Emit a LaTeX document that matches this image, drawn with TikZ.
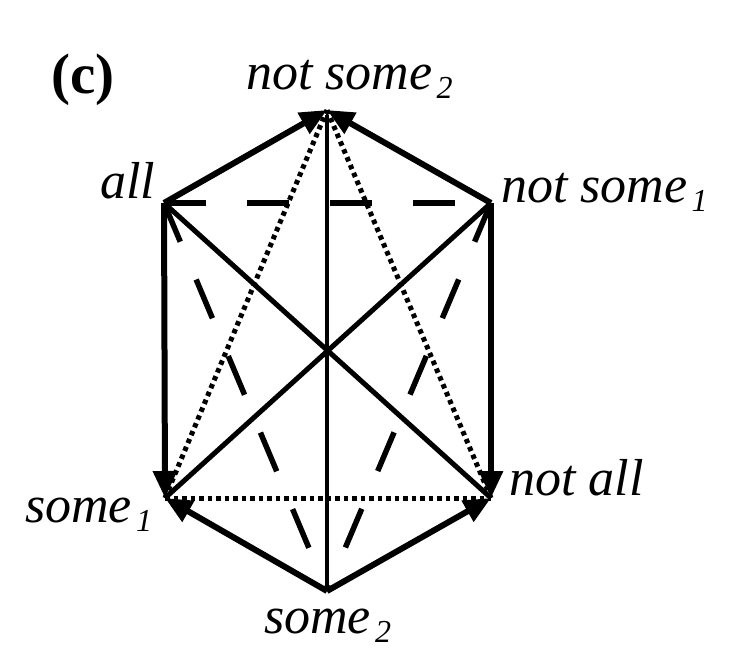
\documentclass[tikz,border=0pt]{standalone}
\usepackage{fontspec}
\setmainfont{Liberation Serif}
\usetikzlibrary{arrows.meta}
\newcommand{\mysub}[1]{\kern4pt\raisebox{-9pt}{\fontsize{32}{32}\selectfont #1}}
\tikzset{
  edge/.style={line width=6pt},
  diag/.style={line width=5pt},
  axisline/.style={line width=4.5pt, shorten >=5pt},
  dashedge/.style={line width=5.5pt, dash pattern=on 42pt off 41pt},
  dotedge/.style={line width=5pt, dash pattern=on 4.5pt off 4pt},
  arr/.style={-{Triangle[length=27pt,width=23pt]}},
  lbl/.style={inner sep=0pt, anchor=base west, font=\fontsize{52}{52}\selectfont\itshape},
  title/.style={inner sep=0pt, anchor=base west, font=\fontsize{57}{57}\selectfont\bfseries}
}
\begin{document}
\begin{tikzpicture}[x=1pt,y=-1pt]
\useasboundingbox (0,0) rectangle (735,669);
\coordinate (T) at (327,110);
\coordinate (A) at (164,203);
\coordinate (NS1) at (491,203);
\coordinate (S1) at (165,498);
\coordinate (NA) at (491,498);
\coordinate (S2) at (327,591);
% dashed
\draw[dashedge] (A) -- (NS1);
\draw[dashedge] (A) -- (S2);
\draw[dashedge] (NS1) -- (S2);
% dotted
\draw[dotedge] (S1) -- (NA);
\draw[dotedge] (S1) -- (T);
\draw[dotedge] (NA) -- (T);
% axis and diagonals
\draw[axisline] (S2) -- (T);
\draw[diag] (A) -- (NA);
\draw[diag] (NS1) -- (S1);
% arrows
\draw[edge,arr] (A) -- (T);
\draw[edge,arr] (NS1) -- (T);
\draw[edge,arr] (A) -- (S1);
\draw[edge,arr] (NS1) -- (NA);
\draw[edge,arr] (S2) -- (S1);
\draw[edge,arr] (S2) -- (NA);
% labels
\node[title] (lc) at (51,93) {(c)};
\node[lbl] (lns2) at (246,89) {not some\mysub{2}};
\node[lbl] (lall) at (100,198) {all};
\node[lbl] (lns1) at (501,202) {not some\mysub{1}};
\node[lbl] (lna) at (509,495) {not all};
\node[lbl] (ls1) at (25,522) {some\mysub{1}};
\node[lbl] (ls2) at (264,633) {some\mysub{2}};
\end{tikzpicture}
\end{document}
